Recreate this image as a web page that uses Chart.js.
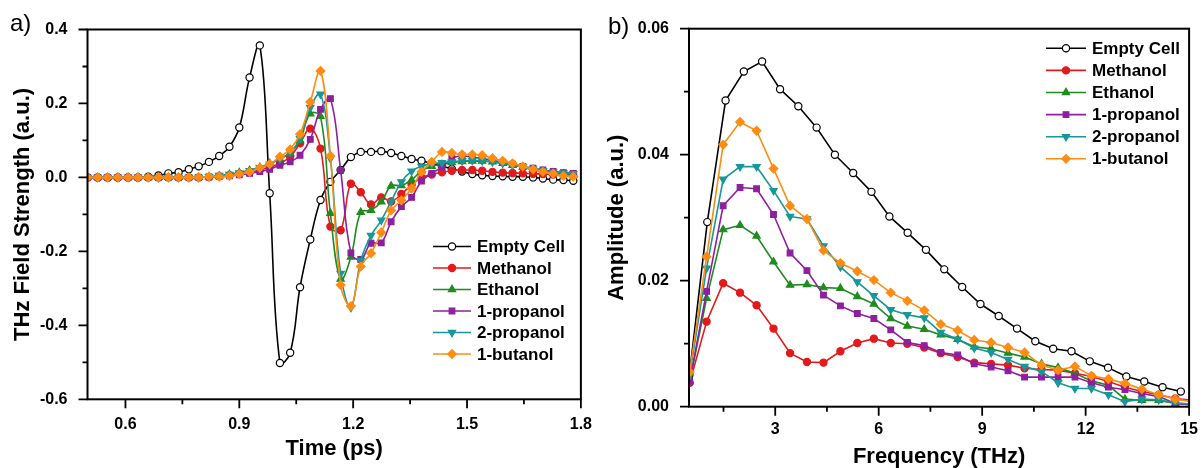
<!DOCTYPE html>
<html>
<head>
<meta charset="utf-8">
<script src="https://cdn.jsdelivr.net/npm/chart.js"></script>
<style>
  html, body { margin: 0; padding: 0; background: #fff; }
  #wrap { position: relative; width: 1203px; height: 468px; }
  #chartA { position: absolute; left: 0; top: 0; }
  #chartB { position: absolute; left: 600px; top: 0; }
</style>
</head>
<body>
<div id="wrap">
  <canvas id="chartA" width="600" height="468"></canvas>
  <canvas id="chartB" width="603" height="468"></canvas>
</div>
<script>
const seriesNames = ["Empty Cell", "Methanol", "Ethanol", "1-propanol", "2-propanol", "1-butanol"];

// a) time domain (ps)
const timePs = [0.500, 0.527, 0.553, 0.580, 0.607, 0.633, 0.660, 0.687, 0.713, 0.740,
  0.767, 0.793, 0.820, 0.847, 0.874, 0.900, 0.927, 0.954, 0.980, 1.007,
  1.034, 1.060, 1.087, 1.114, 1.140, 1.167, 1.194, 1.220, 1.247, 1.274,
  1.300, 1.327, 1.354, 1.380, 1.407, 1.434, 1.460, 1.487, 1.514, 1.540,
  1.567, 1.594, 1.620, 1.647, 1.674, 1.700, 1.727, 1.754, 1.780];
const emptyA = [0, 0, 0, 0, 0, 0, 0.002, 0.005, 0.011, 0.014,
  0.022, 0.030, 0.042, 0.058, 0.083, 0.135, 0.270, 0.357, -0.043, -0.502,
  -0.474, -0.297, -0.168, -0.061, -0.012, 0.020, 0.055, 0.069, 0.069, 0.071,
  0.066, 0.058, 0.050, 0.045, 0.038, 0.031, 0.023, 0.016, 0.009, 0.006,
  0.004, 0.003, 0.002, 0.002, 0.000, -0.003, -0.006, -0.007, -0.009];
const methanolA = [0, 0, 0, 0, 0, 0, 0, 0, 0, 0,
  0, 0, 0.001, 0.003, 0.006, 0.009, 0.014, 0.020, 0.028, 0.038,
  0.056, 0.092, 0.132, 0.078, -0.133, -0.143, -0.017, -0.040, -0.073, -0.054,
  -0.065, -0.045, -0.020, 0.000, 0.008, 0.014, 0.018, 0.020, 0.020, 0.018,
  0.015, 0.013, 0.012, 0.011, 0.010, 0.009, 0.008, 0.007, 0.006];
const ethanolA = [0, 0, 0, 0, 0, 0, 0, 0, 0, 0,
  0, 0, 0.002, 0.004, 0.008, 0.013, 0.019, 0.027, 0.038, 0.050,
  0.066, 0.100, 0.172, 0.165, -0.097, -0.275, -0.215, -0.094, -0.089, -0.066,
  -0.023, -0.022, -0.007, 0.018, 0.030, 0.035, 0.040, 0.043, 0.044, 0.044,
  0.042, 0.038, 0.033, 0.028, 0.022, 0.017, 0.012, 0.009, 0.007];
const propanol1A = [0, 0, 0, 0, 0, 0, 0, 0, 0, 0,
  0, 0, 0.001, 0.002, 0.004, 0.007, 0.011, 0.016, 0.022, 0.033,
  0.042, 0.060, 0.103, 0.184, 0.213, 0.019, -0.204, -0.222, -0.178, -0.177,
  -0.120, -0.079, -0.054, -0.010, 0.011, 0.028, 0.052, 0.058, 0.055, 0.051,
  0.046, 0.041, 0.036, 0.030, 0.025, 0.020, 0.016, 0.013, 0.011];
const propanol2A = [0, 0, 0, 0, 0, 0, 0, 0, 0, 0,
  0, 0, 0.002, 0.005, 0.008, 0.012, 0.018, 0.026, 0.036, 0.050,
  0.068, 0.105, 0.189, 0.225, 0.051, -0.260, -0.352, -0.225, -0.157, -0.116,
  -0.065, -0.012, 0.017, 0.030, 0.037, 0.040, 0.042, 0.045, 0.046, 0.045,
  0.042, 0.038, 0.033, 0.028, 0.022, 0.018, 0.014, 0.012, 0.010];
const butanolA = [0, 0, 0, 0, 0, 0, 0, 0, 0, 0,
  0, 0, 0.002, 0.002, 0.004, 0.009, 0.015, 0.026, 0.036, 0.056,
  0.076, 0.117, 0.204, 0.288, 0.058, -0.291, -0.348, -0.241, -0.205, -0.149,
  -0.089, -0.062, -0.030, 0.015, 0.042, 0.069, 0.066, 0.062, 0.062, 0.060,
  0.052, 0.045, 0.038, 0.030, 0.022, 0.015, 0.010, 0.004, 0.002];

// b) spectra (THz)
const freqEmpty = [0.51, 1.03, 1.56, 2.09, 2.62, 3.14, 3.67, 4.20, 4.73, 5.26,
  5.79, 6.31, 6.84, 7.37, 7.90, 8.42, 8.95, 9.48, 10.01, 10.54,
  11.06, 11.59, 12.12, 12.65, 13.18, 13.70, 14.23, 14.76];
const emptyB = [0.0050, 0.0293, 0.0486, 0.0532, 0.0548, 0.0504, 0.0477, 0.0443, 0.0400, 0.0371,
  0.0341, 0.0302, 0.0276, 0.0249, 0.0218, 0.0190, 0.0163, 0.0144, 0.0124, 0.0104,
  0.0092, 0.0088, 0.0072, 0.0062, 0.0048, 0.0040, 0.0031, 0.0024];
const freqLiquid = [0.52, 1.01, 1.49, 1.98, 2.46, 2.95, 3.43, 3.92, 4.40, 4.89,
  5.38, 5.86, 6.35, 6.83, 7.32, 7.80, 8.29, 8.77, 9.26, 9.75,
  10.23, 10.72, 11.20, 11.69, 12.17, 12.66, 13.14, 13.63, 14.12, 14.60, 15.09];
const methanolB = [0.0038, 0.0135, 0.0196, 0.0181, 0.0161, 0.0124, 0.0085, 0.0071, 0.0070, 0.0088,
  0.0101, 0.0108, 0.0101, 0.0100, 0.0094, 0.0085, 0.0079, 0.0070, 0.0068, 0.0066,
  0.0061, 0.0059, 0.0058, 0.0053, 0.0048, 0.0040, 0.0031, 0.0024, 0.0019, 0.0013, 0.0010];
const ethanolB = [0.0040, 0.0172, 0.0281, 0.0288, 0.0271, 0.0230, 0.0193, 0.0194, 0.0189, 0.0188,
  0.0175, 0.0163, 0.0140, 0.0128, 0.0123, 0.0114, 0.0107, 0.0095, 0.0092, 0.0085,
  0.0079, 0.0068, 0.0062, 0.0053, 0.0041, 0.0034, 0.0012, 0.0010, 0.0010, 0.0005, 0.0004];
const propanol1B = [0.0040, 0.0183, 0.0319, 0.0348, 0.0346, 0.0305, 0.0244, 0.0216, 0.0177, 0.0160,
  0.0148, 0.0140, 0.0122, 0.0102, 0.0097, 0.0086, 0.0082, 0.0068, 0.0063, 0.0057,
  0.0047, 0.0047, 0.0047, 0.0047, 0.0038, 0.0031, 0.0027, 0.0021, 0.0016, 0.0005, 0.0003];
const propanol2B = [0.0050, 0.0220, 0.0361, 0.0381, 0.0381, 0.0343, 0.0302, 0.0298, 0.0255, 0.0222,
  0.0198, 0.0176, 0.0154, 0.0146, 0.0141, 0.0118, 0.0107, 0.0093, 0.0086, 0.0075,
  0.0064, 0.0056, 0.0038, 0.0029, 0.0029, 0.0019, 0.0008, 0.0012, 0.0011, 0.0006, 0.0004];
const butanolB = [0.0055, 0.0238, 0.0416, 0.0452, 0.0438, 0.0378, 0.0319, 0.0298, 0.0248, 0.0228,
  0.0215, 0.0201, 0.0181, 0.0168, 0.0153, 0.0131, 0.0121, 0.0106, 0.0102, 0.0094,
  0.0086, 0.0066, 0.0058, 0.0064, 0.0049, 0.0044, 0.0037, 0.0028, 0.0019, 0.0012, 0.0008];

// tick labels
const xTicksA = [0.6, 0.9, 1.2, 1.5, 1.8];
const xMinorA = [0.75, 1.05, 1.35, 1.65];
const yTicksA = [-0.6, -0.4, -0.2, 0.0, 0.2, 0.4];
const yMinorA = [-0.5, -0.3, -0.1, 0.1, 0.3];
const xTicksB = [3, 6, 9, 12, 15];
const xMinorB = [1.5, 4.5, 7.5, 10.5, 13.5];
const yTicksB = [0.00, 0.02, 0.04, 0.06];
const yMinorB = [0.01, 0.03, 0.05];

const FONT = "'Liberation Sans', Arial, sans-serif";
const looks = [
  { color: "#000000", fill: "#ffffff", style: "circle", r: 3.6, rot: 0 },
  { color: "#e31a1c", fill: null, style: "circle", r: 3.6, rot: 0 },
  { color: "#1e8c1e", fill: null, style: "triangle", r: 4.2, rot: 0 },
  { color: "#8e1f9e", fill: null, style: "rect", r: 4, rot: 0 },
  { color: "#17979a", fill: null, style: "triangle", r: 4.2, rot: 180 },
  { color: "#ff8c12", fill: null, style: "rectRot", r: 4.3, rot: 0 }
];

function makeSets(xs, ys, tension) {
  return ys.map((vals, i) => ({
    label: seriesNames[i],
    data: vals.map((v, k) => ({ x: xs[i][k], y: v })),
    borderColor: looks[i].color,
    borderWidth: 1.6,
    pointStyle: looks[i].style,
    pointRotation: looks[i].rot,
    pointRadius: looks[i].r,
    pointBackgroundColor: looks[i].fill || looks[i].color,
    pointBorderColor: looks[i].color,
    pointBorderWidth: 1.2,
    tension: tension,
    order: 6 - i
  }));
}

const decor = {
  id: "decor",
  afterDraw(chart, args, o) {
    const { ctx, chartArea: a } = chart;
    const x = chart.scales.x, y = chart.scales.y;
    ctx.save();
    ctx.strokeStyle = "#000";
    ctx.lineWidth = 2;
    ctx.strokeRect(a.left, a.top, a.right - a.left, a.bottom - a.top);
    ctx.lineWidth = 1.8;
    ctx.beginPath();
    const tick = (vals, len, horiz) => vals.forEach(v => {
      if (horiz) {
        const p = x.getPixelForValue(v);
        ctx.moveTo(p, a.bottom); ctx.lineTo(p, a.bottom + len);
      } else {
        const p = y.getPixelForValue(v);
        ctx.moveTo(a.left, p); ctx.lineTo(a.left - len, p);
      }
    });
    tick(o.xMajor, 9, true); tick(o.xMinor, 5, true);
    tick(o.yMajor, 9, false); tick(o.yMinor, 5, false);
    ctx.stroke();

    // legend inside the plot
    const L = o.legend;
    chart.data.datasets.forEach((ds, i) => {
      const ly = L.y + i * L.dy;
      ctx.strokeStyle = ds.borderColor;
      ctx.lineWidth = ds.borderWidth;
      ctx.beginPath(); ctx.moveTo(L.x, ly); ctx.lineTo(L.x + L.w, ly); ctx.stroke();
      ctx.fillStyle = ds.pointBackgroundColor;
      ctx.strokeStyle = ds.pointBorderColor;
      ctx.lineWidth = ds.pointBorderWidth;
      if (Chart.helpers && Chart.helpers.drawPoint) {
        Chart.helpers.drawPoint(ctx, { pointStyle: ds.pointStyle, rotation: ds.pointRotation,
          radius: ds.pointRadius, borderWidth: ds.pointBorderWidth }, L.x + L.w / 2, ly);
      }
      ctx.fillStyle = "#000";
      ctx.font = "bold 17px " + FONT;
      ctx.textAlign = "left";
      ctx.textBaseline = "middle";
      ctx.fillText(ds.label, L.x + L.w + 6, ly + 1);
    });

    ctx.fillStyle = "#000";
    ctx.font = "24px " + FONT;
    ctx.textAlign = "left";
    ctx.textBaseline = "middle";
    ctx.fillText(o.tag, o.tagX, o.tagY);
    ctx.restore();
  }
};

function axisCfg(ticksArr, min, max, fmt, pad, size, title, titlePad, isX) {
  return {
    type: "linear", min: min, max: max,
    afterBuildTicks: s => { s.ticks = ticksArr.map(v => ({ value: v })); },
    afterFit: s => { if (isX) s.height = size; else s.width = size; },
    grid: { display: false },
    border: { display: false },
    ticks: {
      color: "#000", padding: pad, autoSkip: false, maxRotation: 0,
      font: { family: FONT, size: 16, weight: "bold" },
      callback: v => v.toFixed(fmt)
    },
    title: {
      display: true, text: title, color: "#000",
      font: { family: FONT, size: 22, weight: "bold", lineHeight: 1 },
      padding: titlePad
    }
  };
}

new Chart(document.getElementById("chartA"), {
  type: "line",
  data: {
    datasets: makeSets([timePs, timePs, timePs, timePs, timePs, timePs],
      [emptyA, methanolA, ethanolA, propanol1A, propanol2A, butanolA], 0.4)
  },
  options: {
    responsive: false, animation: false, devicePixelRatio: 1,
    layout: { padding: { left: 0, top: 29.5, right: 18.3, bottom: 0 } },
    scales: {
      x: axisCfg(xTicksA, 0.5, 1.8, 1, 8, 68.7, "Time (ps)", { top: 0, bottom: 8 }, true),
      y: axisCfg(yTicksA, -0.6, 0.4, 1, 12, 87.5, "THz Field Strength (a.u.)", { top: 12, bottom: 0 }, false)
    },
    plugins: {
      legend: { display: false }, tooltip: { enabled: false },
      decor: { xMajor: xTicksA, xMinor: xMinorA, yMajor: yTicksA, yMinor: yMinorA,
        legend: { x: 433, y: 246.5, dy: 21.5, w: 38 }, tag: "a)", tagX: 10, tagY: 24 }
    }
  },
  plugins: [decor]
});

new Chart(document.getElementById("chartB"), {
  type: "line",
  data: {
    datasets: makeSets([freqEmpty, freqLiquid, freqLiquid, freqLiquid, freqLiquid, freqLiquid],
      [emptyB, methanolB, ethanolB, propanol1B, propanol2B, butanolB], 0)
  },
  options: {
    responsive: false, animation: false, devicePixelRatio: 1,
    layout: { padding: { left: 0, top: 28.7, right: 11, bottom: 0 } },
    scales: {
      x: axisCfg(xTicksB, 0.5, 15, 0, 5, 61.3, "Frequency (THz)", { top: 0, bottom: 0 }, true),
      y: axisCfg(yTicksB, 0, 0.06, 2, 12, 89, "Amplitude (a.u.)", { top: 6, bottom: 0 }, false)
    },
    plugins: {
      legend: { display: false }, tooltip: { enabled: false },
      decor: { xMajor: xTicksB, xMinor: xMinorB, yMajor: yTicksB, yMinor: yMinorB,
        legend: { x: 446, y: 48.3, dy: 22.1, w: 40 }, tag: "b)", tagX: 8, tagY: 27 }
    }
  },
  plugins: [decor]
});
</script>
</body>
</html>
